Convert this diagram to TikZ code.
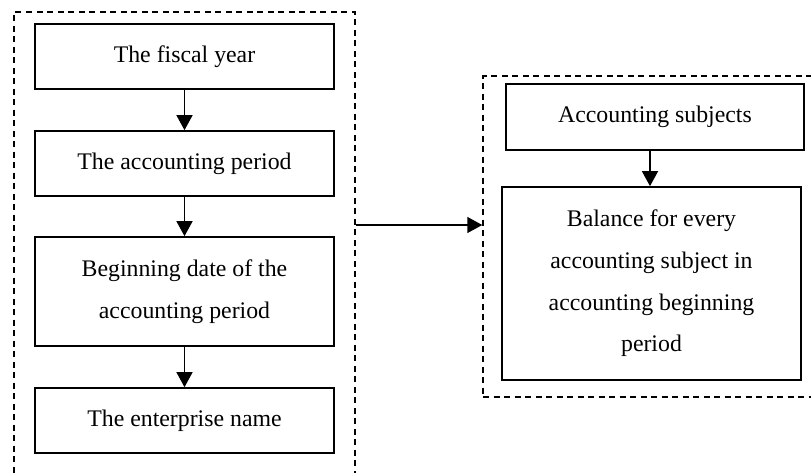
\documentclass[tikz,border=0pt]{standalone}
\usepackage{fontspec}
\setmainfont{Liberation Serif}
\usetikzlibrary{arrows.meta}
\begin{document}
\begin{tikzpicture}[x=1pt,y=-1pt,
  stepbox/.style={draw, line width=1.7pt, rectangle, inner sep=0pt,
    font=\fontsize{23.8}{41.7}\selectfont, align=center},
  groupbox/.style={draw, line width=1.5pt, dash pattern=on 6pt off 4.5pt, rectangle, inner sep=0pt},
  arr/.style={line width=1.5pt, -{Triangle[length=15pt,width=16pt]}}]
\useasboundingbox (0,0) rectangle (811,472);
% dashed group frames
\node[groupbox, minimum width=341pt, minimum height=470pt] (L) at (184.5,247) {};
\node[groupbox, minimum width=340pt, minimum height=321pt] (R) at (653,236.5) {};
% left column
\node[stepbox, minimum width=299pt, minimum height=65pt] (fy) at (184.5,56.5) {The fiscal year};
\node[stepbox, minimum width=299pt, minimum height=65pt] (ap) at (184.5,163.5) {The accounting period};
\node[stepbox, minimum width=299pt, minimum height=109pt] (bd) at (184.5,291.5) {Beginning date of the\\accounting period};
\node[stepbox, minimum width=299pt, minimum height=65pt] (en) at (184.5,420.5) {The enterprise name};
% right column
\node[stepbox, minimum width=298pt, minimum height=66pt] (as) at (655,117) {Accounting subjects};
\node[stepbox, minimum width=299pt, minimum height=193pt] (bal) at (651.5,283.5) {Balance for every\\accounting subject in\\accounting beginning\\period};
% connectors
\draw[arr] (fy) -- (ap);
\draw[arr] (ap) -- (bd);
\draw[arr] (bd) -- (en);
\draw[arr] (as.south -| 650,0) -- (bal.north -| 650,0);
\coordinate (link) at (0,225);
\draw[arr] (L.east |- link) -- (R.west |- link);
\end{tikzpicture}
\end{document}
